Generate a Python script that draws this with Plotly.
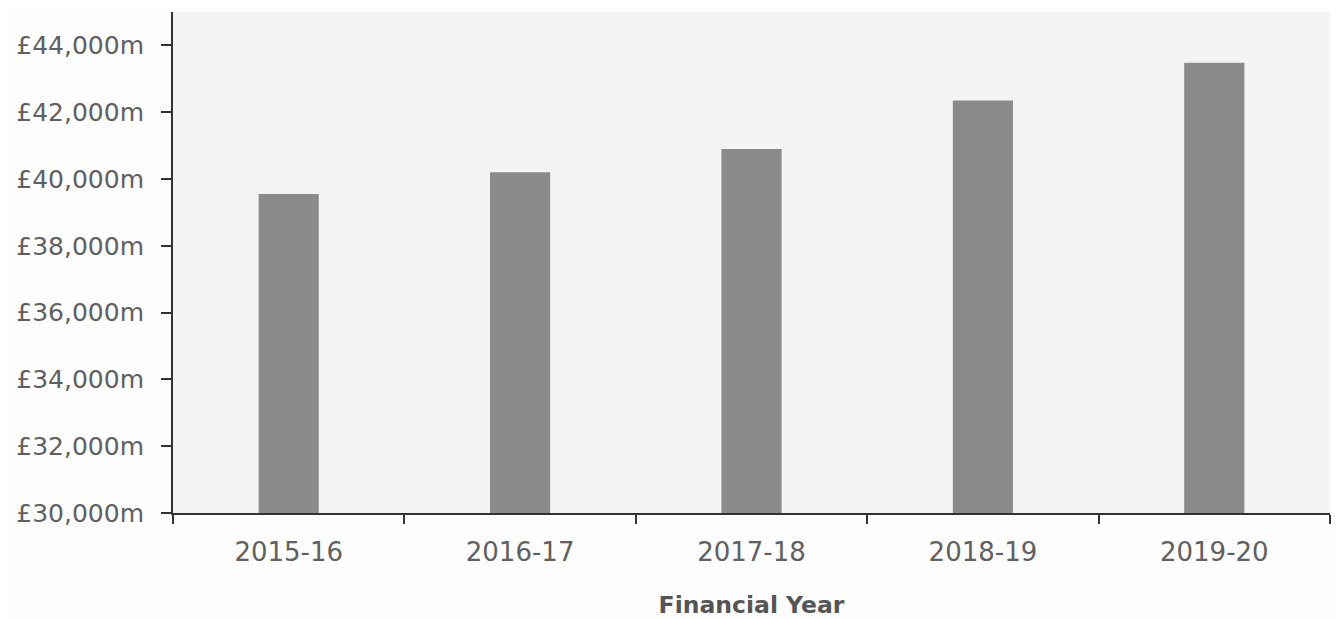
import plotly.graph_objects as go

years = ["2015-16", "2016-17", "2017-18", "2018-19", "2019-20"]
spend_m = [39550, 40200, 40900, 42350, 43480]
y_ticks = [30000, 32000, 34000, 36000, 38000, 40000, 42000, 44000]
y_tick_labels = ["£30,000m", "£32,000m", "£34,000m", "£36,000m", "£38,000m",
                 "£40,000m", "£42,000m", "£44,000m"]

fig = go.Figure(go.Bar(
    x=years, y=spend_m,
    marker=dict(color="#8a8a8a", line=dict(width=0)),
    width=0.26,
))

font_family = "DejaVu Sans"
fig.update_layout(
    width=1340, height=619,
    margin=dict(l=165, r=18, t=4, b=114),
    paper_bgcolor="#fdfdfd",
    plot_bgcolor="#f4f4f4",
    showlegend=False,
    font=dict(family=font_family, size=25, color="#606060"),
)
fig.update_xaxes(
    type="category",
    showline=True, linecolor="#333333", linewidth=2,
    ticks="outside", tickson="boundaries", ticklen=9, tickwidth=2, tickcolor="#333333",
    tickfont=dict(family=font_family, size=26, color="#606060"),
    ticklabelstandoff=15,
    showgrid=False, zeroline=False,
    title=dict(text="<b>Financial Year</b>", font=dict(family=font_family, size=23.5, color="#555555"),
               standoff=30),
)
fig.update_yaxes(
    range=[30000, 45000],
    tickvals=y_ticks, ticktext=y_tick_labels,
    showline=True, linecolor="#333333", linewidth=2,
    ticks="outside", ticklen=10, tickwidth=2, tickcolor="#333333",
    tickfont=dict(family=font_family, size=25, color="#606060"),
    ticklabelstandoff=12,
    showgrid=False, zeroline=False,
)

fig.write_html("out.html")
